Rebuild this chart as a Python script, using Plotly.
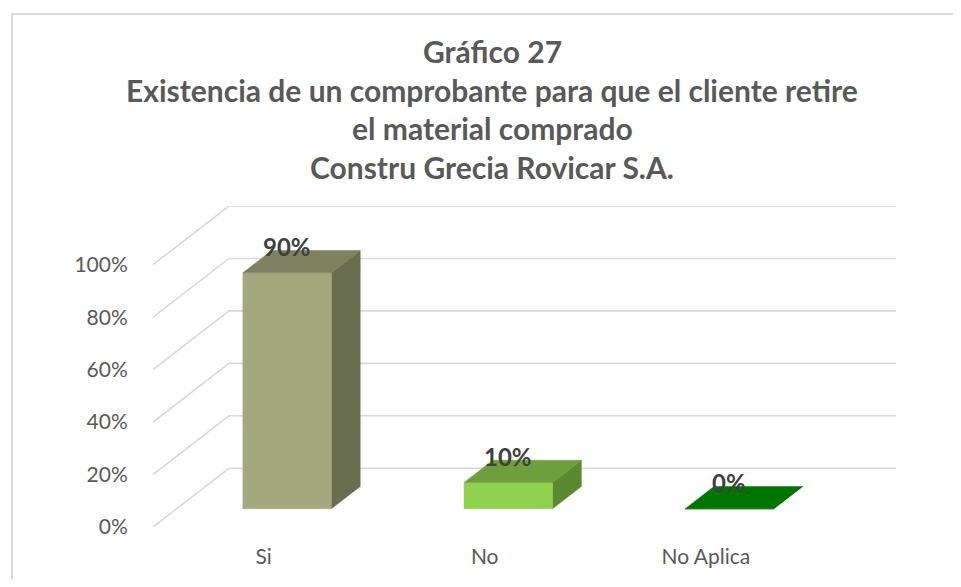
import plotly.graph_objects as go

# ---------------- data ----------------
categories = ["Si", "No", "No Aplica"]
values = [90, 10, 0]
value_labels = ["90%", "10%", "0%"]
y_ticks = [0, 20, 40, 60, 80, 100]
y_tick_labels = ["0%", "20%", "40%", "60%", "80%", "100%"]
title_lines = [
    "Gráfico 27",
    "Existencia de un comprobante para que el cliente retire",
    "el material comprado",
    "Constru Grecia Rovicar S.A.",
]

front_colors = ["#a3a87e", "#92d050", "#007400"]
top_colors = ["#7e815f", "#6f9e3c", "#007400"]
side_colors = ["#6a6e50", "#5c8830", "#005c00"]

# ---------------- geometry / style ----------------
OFF = 8                         # default page body margin
W, H = 961 - 2 * OFF, 587 - 2 * OFF
# plot area in screen pixels
PX_L, PX_R, PX_T, PX_B = 153, 896, 206, 527
ML = PX_L - OFF
MR = W - (PX_R - OFF)
MT = PX_T - OFF
MB = H - (PX_B - OFF)
WALL_DX = 0.3436      # depth shift of back wall, in category units
WALL_DY = 22.39       # depth shift of back wall, in % units
BAR_FRONT, BAR_BACK = 0.31, 0.69
BAR_HALF = 0.2
X_MIN, X_MAX = -0.5, 2.86
Y_TOP = 100 + WALL_DY
FONT = "Lato"
GRID = "#d9d9d9"
TXT = "#595959"


def P(x, v, f):
    return x + f * WALL_DX, v + f * WALL_DY


def paper_x(px):
    return (px - OFF - ML) / (W - ML - MR)


def paper_y(py):
    return (H - MB - (py - OFF)) / (H - MB - MT)


fig = go.Figure()

# walls / gridlines
gx, gy = [], []
for t in y_ticks:
    a = P(X_MIN, t, 0)
    b = P(X_MIN, t, 1)
    c = (X_MAX, t + WALL_DY)
    gx += [a[0], b[0], c[0], None]
    gy += [a[1], b[1], c[1], None]
fig.add_trace(go.Scatter(x=gx, y=gy, mode="lines", line=dict(color=GRID, width=1.6),
                         hoverinfo="skip", showlegend=False, cliponaxis=False))

# 3D-looking bars
for i, v in enumerate(values):
    h = BAR_HALF
    faces = [
        ([P(i + h, 0, BAR_FRONT), P(i + h, 0, BAR_BACK), P(i + h, v, BAR_BACK), P(i + h, v, BAR_FRONT)], side_colors[i]),
        ([P(i - h, 0, BAR_FRONT), P(i + h, 0, BAR_FRONT), P(i + h, v, BAR_FRONT), P(i - h, v, BAR_FRONT)], front_colors[i]),
        ([P(i - h, v, BAR_FRONT), P(i + h, v, BAR_FRONT), P(i + h, v, BAR_BACK), P(i - h, v, BAR_BACK)], top_colors[i]),
    ]
    for pts, col in faces:
        xs = [p[0] for p in pts] + [pts[0][0]]
        ys = [p[1] for p in pts] + [pts[0][1]]
        fig.add_trace(go.Scatter(x=xs, y=ys, mode="lines", fill="toself", fillcolor=col,
                                 line=dict(color=col, width=0.5), hoverinfo="skip",
                                 showlegend=False))
    lx = P(i, v, BAR_FRONT)[0]
    ly = P(i, v, BAR_BACK)[1]
    fig.add_annotation(x=lx, y=ly, text=value_labels[i], showarrow=False, yanchor="middle",
                       yshift=4, font=dict(family=FONT, size=24, color="#404040", weight="bold"))

# title lines
title_px_y = [51, 90, 128, 167]
for line, py in zip(title_lines, title_px_y):
    fig.add_annotation(x=paper_x(492), y=paper_y(py), xref="paper", yref="paper",
                       text=line, showarrow=False, xanchor="center", yanchor="middle",
                       font=dict(family=FONT, size=30, color=TXT, weight="bold"))

# chart-area border (top and left edges)
fig.add_shape(type="rect", xref="paper", yref="paper",
              x0=paper_x(12), x1=paper_x(961 + 20), y0=paper_y(587 + 20), y1=paper_y(14),
              line=dict(color="#d9d9d9", width=2), layer="below")

fig.update_layout(
    width=W, height=H,
    margin=dict(l=ML, r=MR, t=MT, b=MB),
    paper_bgcolor="white", plot_bgcolor="white",
    showlegend=False,
    xaxis=dict(range=[X_MIN, X_MAX], tickvals=list(range(len(categories))), ticktext=categories,
               showgrid=False, zeroline=False, showline=False, ticks="outside", ticklen=11,
               tickcolor="rgba(0,0,0,0)", tickfont=dict(family=FONT, size=21, color=TXT),
               fixedrange=True, automargin=False),
    yaxis=dict(range=[0, Y_TOP], tickvals=y_ticks, ticktext=y_tick_labels,
               showgrid=False, zeroline=False, showline=False, ticks="outside", ticklen=20,
               tickcolor="rgba(0,0,0,0)", tickfont=dict(family=FONT, size=21, color=TXT),
               fixedrange=True, automargin=False),
)

fig.write_html("out.html")
